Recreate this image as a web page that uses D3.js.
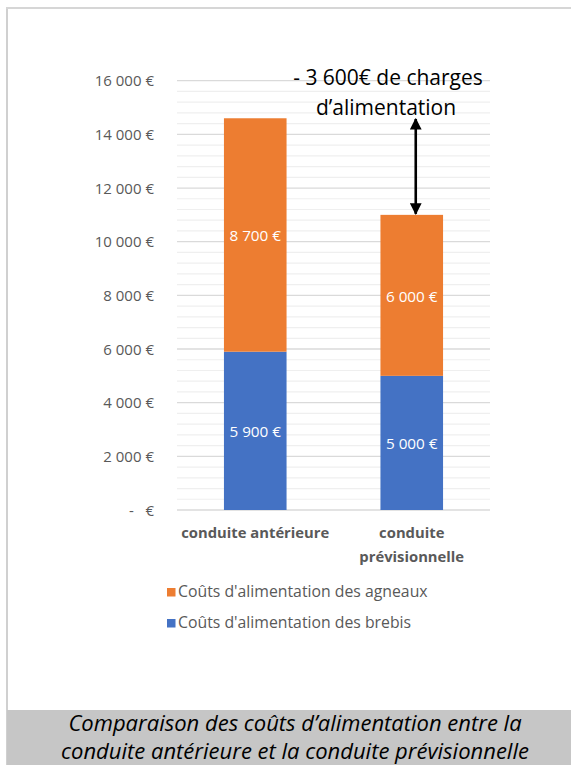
<!DOCTYPE html>
<html><head><meta charset="utf-8">
<script src="https://cdn.jsdelivr.net/npm/d3@7"></script>
<style>
html,body{margin:0;padding:0;background:#fff;}
svg{display:block;}
</style></head>
<body>
<script>
const categories = [["conduite antérieure"], ["conduite", "prévisionnelle"]];
const seriesNames = ["Coûts d'alimentation des brebis", "Coûts d'alimentation des agneaux"];
const brebis = [5900, 5000];
const agneaux = [8700, 6000];
const dataLabels = [["5 900 €", "5 000 €"], ["8 700 €", "6 000 €"]];
const yTicks = [0, 2000, 4000, 6000, 8000, 10000, 12000, 14000, 16000];
const yTickLabels = ["-   €", "2 000 €", "4 000 €", "6 000 €", "8 000 €", "10 000 €", "12 000 €", "14 000 €", "16 000 €"];
const annotationLines = ["- 3 600€ de charges", "d’alimentation"];
const captionLines = ["Comparaison des coûts d’alimentation entre la", "conduite antérieure et la conduite prévisionnelle"];
const colors = ["#4472c4", "#ed7d31"];

const W = 571, H = 765;
const svg = d3.select("body").append("svg").attr("width", W).attr("height", H);
const font = "'Open Sans', Lato, sans-serif";

// frame
svg.append("line").attr("x1", 7).attr("x2", 7).attr("y1", 7).attr("y2", H).attr("stroke", "#d0d0d0").attr("stroke-width", 2);
svg.append("line").attr("x1", 6).attr("x2", W).attr("y1", 8).attr("y2", 8).attr("stroke", "#d6d6d6").attr("stroke-width", 2);

const x0 = 177, x1 = 490, yTop = 80.7, yBot = 510;
const x = d3.scaleBand().domain([0, 1]).range([x0, x1]).paddingInner(0.6).paddingOuter(0.3);
const y = d3.scaleLinear().domain([0, 16000]).range([yBot, yTop]);

// minor grid
const minor = d3.range(0, 16001, 400).filter(v => v % 2000 !== 0);
svg.append("g").selectAll("line").data(minor).join("line")
  .attr("x1", x0).attr("x2", x1).attr("y1", d => y(d)).attr("y2", d => y(d))
  .attr("stroke", "#efefef").attr("stroke-width", 1.2);
// major grid
svg.append("g").selectAll("line").data(yTicks).join("line")
  .attr("x1", x0).attr("x2", x1).attr("y1", d => y(d)).attr("y2", d => y(d))
  .attr("stroke", "#dadada").attr("stroke-width", 1.3);

// y axis labels
const yAxis = d3.axisLeft(y).tickValues(yTicks).tickFormat((d, i) => yTickLabels[i]).tickSize(0).tickPadding(0);
const gy = svg.append("g").attr("transform", `translate(154,0)`).call(yAxis);
gy.select(".domain").remove();
gy.selectAll("text").attr("fill", "#595959").attr("font-family", font).attr("font-size", 15).attr("dy", "0.35em").style("white-space", "pre");

// stacked bars
const stackData = [0, 1].map(i => ({ i, brebis: brebis[i], agneaux: agneaux[i] }));
const stack = d3.stack().keys(["brebis", "agneaux"])(stackData);
stack.forEach((layer, k) => {
  svg.append("g").selectAll("rect").data(layer).join("rect")
    .attr("x", d => x(d.data.i)).attr("width", x.bandwidth())
    .attr("y", d => y(d[1])).attr("height", d => y(d[0]) - y(d[1]))
    .attr("fill", colors[k]);
  svg.append("g").selectAll("text").data(layer).join("text")
    .attr("x", d => x(d.data.i) + x.bandwidth() / 2)
    .attr("y", d => (y(d[0]) + y(d[1])) / 2 + 1)
    .attr("dy", "0.35em").attr("text-anchor", "middle")
    .attr("fill", "#fff").attr("font-family", font).attr("font-size", 15.3)
    .text((d, j) => dataLabels[k][j]);
});

// category labels
categories.forEach((lines, i) => {
  lines.forEach((t, j) => {
    svg.append("text").attr("x", x(i) + x.bandwidth() / 2).attr("y", 538 + j * 23.5)
      .attr("text-anchor", "middle").attr("fill", "#595959")
      .attr("font-family", font).attr("font-weight", "bold").attr("font-size", 14.8).text(t);
  });
});

// legend (agneaux on top)
const legendOrder = [1, 0];
legendOrder.forEach((k, r) => {
  const ly = 597 + r * 31;
  svg.append("rect").attr("x", 167).attr("y", ly - 9).attr("width", 8.5).attr("height", 8.5).attr("fill", colors[k]);
  svg.append("text").attr("x", 178).attr("y", ly).attr("fill", "#595959")
    .attr("font-family", font).attr("font-size", 15.8).text(seriesNames[k]);
});

// annotation
const annFont = "'Open Sans', 'Noto Sans', sans-serif";
svg.append("text").attr("x", 388).attr("y", 85).attr("text-anchor", "middle")
  .attr("fill", "#000").attr("font-family", annFont).attr("font-size", 21).text(annotationLines[0]);
svg.append("text").attr("x", 386).attr("y", 114.5).attr("text-anchor", "middle")
  .attr("fill", "#000").attr("font-family", annFont).attr("font-size", 21).text(annotationLines[1]);

// double arrow
const defs = svg.append("defs");
defs.append("marker").attr("id", "ah").attr("viewBox", "0 0 10 10").attr("refX", 9).attr("refY", 5)
  .attr("markerWidth", 4.5).attr("markerHeight", 4.5).attr("orient", "auto-start-reverse").attr("markerUnits", "strokeWidth")
  .append("path").attr("d", "M0,0 L10,5 L0,10 z").attr("fill", "#000");
const ax = x(1) + x.bandwidth() / 2 + 4;
svg.append("line").attr("x1", ax).attr("x2", ax).attr("y1", 119).attr("y2", y(brebis[1] + agneaux[1]) - 1)
  .attr("stroke", "#000").attr("stroke-width", 2.6)
  .attr("marker-start", "url(#ah)").attr("marker-end", "url(#ah)");

// caption band
svg.append("rect").attr("x", 7).attr("y", 710).attr("width", W - 7).attr("height", H - 710).attr("fill", "#c6c6c6");
const capFont = "'Open Sans', 'Noto Sans', sans-serif";
captionLines.forEach((t, i) => {
  svg.append("text").attr("x", 295).attr("y", 731 + i * 28).attr("text-anchor", "middle")
    .attr("fill", "#000").attr("font-family", capFont).attr("font-style", "italic").attr("font-size", 22).text(t);
});
</script>
</body></html>
